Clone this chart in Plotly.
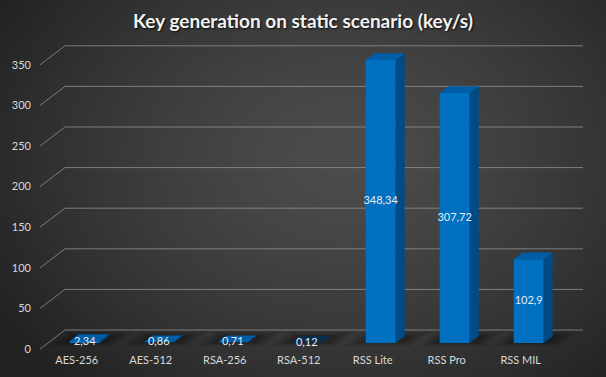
import base64, struct, zlib
import numpy as np
import plotly.graph_objects as go

# ---------------- data ----------------
categories = ["AES-256", "AES-512", "RSA-256", "RSA-512", "RSS Lite", "RSS Pro", "RSS MIL"]
values = [2.34, 0.86, 0.71, 0.12, 348.34, 307.72, 102.9]
value_labels = ["2,34", "0,86", "0,71", "0,12", "348,34", "307,72", "102,9"]
y_ticks = [0, 50, 100, 150, 200, 250, 300, 350]
title_text = "Key generation on static scenario (key/s)"

# ---------------- geometry (pseudo-3D) ----------------
W, H = 606, 377
ML, MR, MT, MB = 40, 16, 40, 25
PX_X = 74.0          # px per category
PX_Y = 0.812         # px per value unit
X0_PX = 76.7         # pixel of category 0 at front plane
Y0_PX = 349.0        # pixel of value 0 at front plane
DX = 25.0 / PX_X     # full depth offset in x units
DY = 19.0 / PX_Y     # full depth offset in y units
HW = 15.0 / PX_X     # half bar width
D0, D1 = 0.32, 0.68  # bar front/back depth

x_lo = (ML - X0_PX) / PX_X
x_hi = (W - MR - X0_PX) / PX_X
y_hi = (Y0_PX - MT) / PX_Y
y_lo = (Y0_PX - (H - MB)) / PX_Y
x_grid_end = (583 - X0_PX) / PX_X

FRONT = "#0070C0"
SIDE = "#004A86"
TOP = "#005DA6"
GRID = "rgba(150,150,150,0.75)"

fig = go.Figure()


def poly(xs, ys, color):
    fig.add_trace(go.Scatter(x=xs + [xs[0]], y=ys + [ys[0]], mode="lines", fill="toself",
                             fillcolor=color, line=dict(width=0),
                             hoverinfo="skip", showlegend=False))


# gridlines: back wall + left diagonal
gx, gy = [], []
for t in y_ticks:
    gx += [x_lo, x_lo + DX, x_grid_end, None]
    gy += [t, t + DY, t + DY, None]
fig.add_trace(go.Scatter(x=gx, y=gy, mode="lines", line=dict(color=GRID, width=1),
                         hoverinfo="skip", showlegend=False))

# floor shadows (soft, layered)
for i, v in enumerate(values):
    for k, op in [(3, 0.06), (2, 0.08), (1, 0.10), (0, 0.14)]:
        l = i - HW - (6 + 4 * k) / PX_X
        r = i + HW + (8 + 4 * k) / PX_X
        da = max(0.02, D0 - 0.06 * k)
        db = min(1.0, D1 + 0.08 * k + 0.04)
        poly([l + da * DX, r + da * DX, r + db * DX, l + db * DX],
             [da * DY, da * DY, db * DY, db * DY], f"rgba(0,0,0,{op})")

# bars: front, side, top faces
for i, v in enumerate(values):
    xl = i - HW + D0 * DX
    xr = i + HW + D0 * DX
    ddx = (D1 - D0) * DX
    yb = D0 * DY
    yt = v + D0 * DY
    ddy = (D1 - D0) * DY
    poly([xl, xr, xr, xl], [yb, yb, yt, yt], FRONT)
    poly([xr, xr + ddx, xr + ddx, xr], [yb, yb + ddy, yt + ddy, yt], SIDE)
    top_col = TOP if v > 0.5 else "#0B2D4D"
    poly([xl, xr, xr + ddx, xl + ddx], [yt, yt, yt + ddy, yt + ddy], top_col)

# data labels
fig.add_trace(go.Scatter(x=[i + D0 * DX for i in range(len(values))],
                         y=[D0 * DY + v / 2 for v in values],
                         mode="text", text=value_labels,
                         textfont=dict(family="Lato", size=11, color="#E6ECF3"),
                         textposition="middle center", hoverinfo="skip", showlegend=False))

# ---------------- background gradient image ----------------
bw, bh = 152, 95
yy, xx = np.mgrid[0:bh, 0:bw]
cx, cy = 0.56 * bw, 0.42 * bh
r = np.sqrt(((xx - cx) / (0.62 * bw)) ** 2 + ((yy - cy) / (0.75 * bh)) ** 2)
val = np.clip(76 - 38 * r ** 1.4, 34, 80).astype(np.uint8)
img = np.stack([val, val, val], axis=-1)


def to_png(a):
    h, w, _ = a.shape
    raw = b"".join(b"\x00" + a[j].tobytes() for j in range(h))

    def chunk(tag, data):
        c = struct.pack(">I", len(data)) + tag + data
        return c + struct.pack(">I", zlib.crc32(tag + data) & 0xFFFFFFFF)

    return (b"\x89PNG\r\n\x1a\n" + chunk(b"IHDR", struct.pack(">IIBBBBB", w, h, 8, 2, 0, 0, 0))
            + chunk(b"IDAT", zlib.compress(raw, 9)) + chunk(b"IEND", b""))


src = "data:image/png;base64," + base64.b64encode(to_png(img)).decode()
pw, ph = W - ML - MR, H - MT - MB

fig.update_layout(
    width=W, height=H, autosize=False,
    margin=dict(l=ML, r=MR, t=MT, b=MB, pad=0),
    paper_bgcolor="#3A3A3A", plot_bgcolor="rgba(0,0,0,0)",
    images=[dict(source=src, xref="paper", yref="paper", x=-ML / pw, y=1 + MT / ph,
                 sizex=W / pw, sizey=H / ph, sizing="stretch", xanchor="left",
                 yanchor="top", layer="below")],
    title=dict(text="<b>" + title_text + "</b>", x=0.5, xanchor="center", xref="container",
               y=1 - 21 / H, yanchor="middle", yref="container",
               font=dict(family="Lato", size=19, color="#F2F2F2",
                         shadow="1px 1px 2px rgba(0,0,0,0.8)")),
    xaxis=dict(range=[x_lo, x_hi], tickvals=list(range(len(categories))),
               ticktext=categories, showgrid=False, zeroline=False, showline=False,
               ticks="", tickfont=dict(family="Lato", size=11, color="#D9D9D9"),
               fixedrange=True),
    yaxis=dict(range=[y_lo, y_hi], tickvals=y_ticks, ticktext=[str(t) for t in y_ticks],
               showgrid=False, zeroline=False, showline=False, ticks="",
               tickfont=dict(family="Lato", size=11, color="#D9D9D9"),
               ticklabelstandoff=8, fixedrange=True),
)

fig.write_html("out.html", config={"displayModeBar": False},
               post_script="document.body.style.margin='0';document.body.style.background='#3A3A3A';")
